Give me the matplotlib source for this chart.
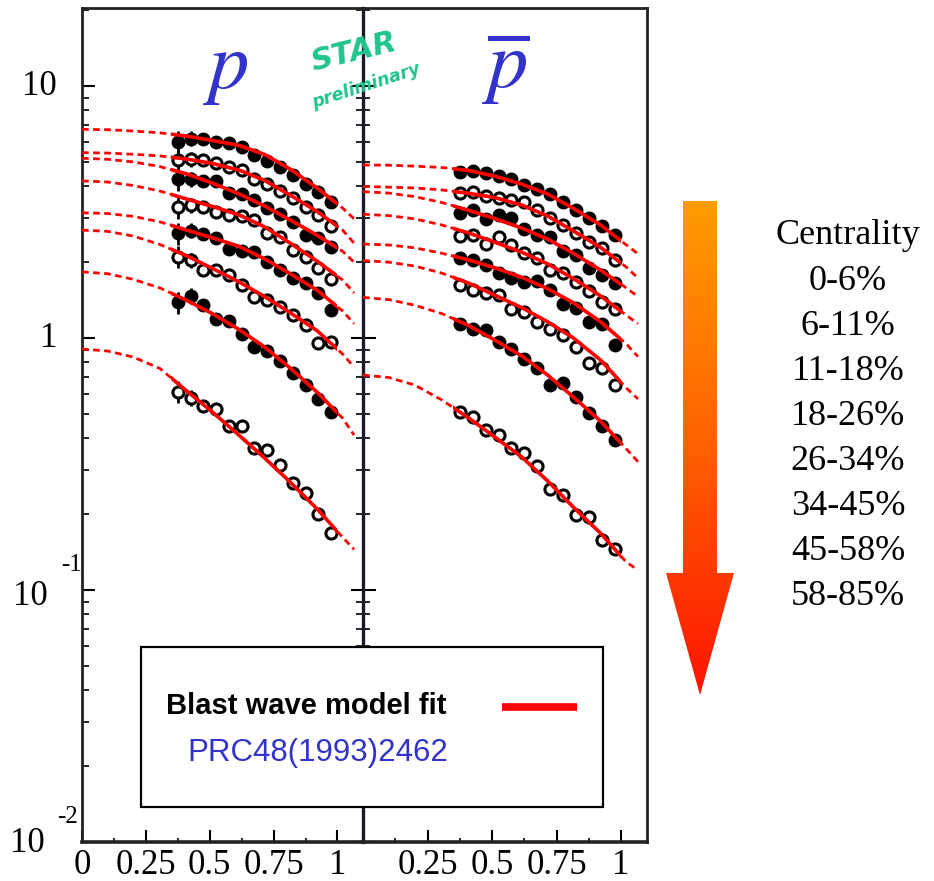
import numpy as np
import matplotlib
matplotlib.use("Agg")
import matplotlib.pyplot as plt
from matplotlib.patches import Rectangle, Polygon
from matplotlib.colors import LinearSegmentedColormap
from matplotlib.ticker import LogLocator, NullFormatter, FixedLocator
from matplotlib.transforms import Bbox, TransformedBbox

plt.rcParams['font.family'] = ['Liberation Serif', 'DejaVu Serif']

W, H = 934, 881

# bin centres (same binning in both panels)
pt = [0.375, 0.425, 0.475, 0.525, 0.575, 0.625, 0.675, 0.725, 0.775, 0.825, 0.875, 0.925, 0.975]
pt_fit = [0.0, 0.1, 0.2, 0.305, 0.41, 0.51, 0.615, 0.715, 0.815, 0.92, 1.02, 1.065]

centrality = ['0-6%', '6-11%', '11-18%', '18-26%', '26-34%', '34-45%', '45-58%', '58-85%']
filled = [True, False, True, False, True, False, True, False]

proton = [
    [6.01, 6.19, 6.19, 5.98, 5.93, 5.74, 5.32, 5.05, 4.79, 4.44, 4.08, 3.81, 3.48],
    [5.08, 5.12, 5.08, 4.94, 4.78, 4.64, 4.27, 4.07, 3.84, 3.58, 3.32, 3.08, 2.78],
    [4.27, 4.27, 4.20, 4.20, 3.75, 3.72, 3.53, 3.29, 3.10, 2.89, 2.56, 2.49, 2.30],
    [3.30, 3.37, 3.30, 3.17, 3.08, 3.05, 2.94, 2.60, 2.52, 2.24, 2.10, 1.89, 1.71],
    [2.60, 2.67, 2.59, 2.50, 2.25, 2.22, 2.20, 2.01, 1.86, 1.73, 1.65, 1.51, 1.29],
    [2.10, 2.04, 1.86, 1.86, 1.78, 1.62, 1.45, 1.42, 1.33, 1.23, 1.13, 0.953, 0.967],
    [1.39, 1.47, 1.35, 1.19, 1.17, 1.04, 0.924, 0.890, 0.810, 0.724, 0.651, 0.571, 0.510],
    [0.612, 0.580, 0.537, 0.521, 0.448, 0.448, 0.365, 0.360, 0.313, 0.265, 0.242, 0.201, 0.168],
]
proton_fit = [
    [6.73, 6.71, 6.63, 6.52, 6.33, 6.08, 5.81, 5.35, 4.68, 3.94, 3.28, 2.97],
    [5.44, 5.42, 5.36, 5.28, 5.13, 4.93, 4.64, 4.22, 3.69, 3.18, 2.68, 2.38],
    [5.17, 5.12, 5.00, 4.79, 4.48, 4.12, 3.73, 3.34, 2.94, 2.56, 2.21, 2.00],
    [4.20, 4.16, 4.03, 3.83, 3.56, 3.33, 3.08, 2.76, 2.38, 2.02, 1.70, 1.51],
    [3.14, 3.12, 3.04, 2.89, 2.68, 2.50, 2.31, 2.06, 1.80, 1.55, 1.28, 1.14],
    [2.68, 2.65, 2.54, 2.35, 2.12, 1.89, 1.67, 1.46, 1.26, 1.07, 0.864, 0.767],
    [1.83, 1.80, 1.71, 1.58, 1.41, 1.25, 1.08, 0.921, 0.760, 0.610, 0.481, 0.412],
    [0.904, 0.888, 0.841, 0.757, 0.616, 0.509, 0.411, 0.334, 0.268, 0.210, 0.162, 0.145],
]

pbar = [
    [4.57, 4.61, 4.50, 4.39, 4.26, 4.05, 3.89, 3.72, 3.47, 3.22, 2.99, 2.78, 2.56],
    [3.75, 3.81, 3.66, 3.58, 3.53, 3.47, 3.22, 2.99, 2.81, 2.60, 2.41, 2.27, 2.04],
    [3.13, 3.22, 2.96, 3.08, 2.99, 2.70, 2.56, 2.52, 2.22, 2.14, 1.89, 1.78, 1.65],
    [2.54, 2.56, 2.36, 2.52, 2.34, 2.17, 2.07, 1.87, 1.81, 1.67, 1.53, 1.39, 1.30],
    [2.07, 2.04, 1.95, 1.81, 1.73, 1.67, 1.68, 1.55, 1.37, 1.31, 1.16, 1.14, 0.938],
    [1.62, 1.55, 1.51, 1.48, 1.30, 1.27, 1.16, 1.09, 1.03, 0.921, 0.798, 0.758, 0.651],
    [1.14, 1.09, 1.08, 0.962, 0.904, 0.825, 0.758, 0.651, 0.661, 0.582, 0.505, 0.448, 0.394],
    [0.510, 0.485, 0.432, 0.412, 0.365, 0.349, 0.311, 0.251, 0.238, 0.198, 0.194, 0.158, 0.145],
]
pbar_fit = [
    [4.86, 4.85, 4.81, 4.75, 4.62, 4.39, 4.08, 3.73, 3.27, 2.81, 2.34, 2.16],
    [3.99, 3.97, 3.94, 3.87, 3.75, 3.61, 3.37, 3.05, 2.66, 2.29, 1.91, 1.73],
    [3.81, 3.76, 3.64, 3.45, 3.21, 2.98, 2.73, 2.47, 2.17, 1.86, 1.58, 1.46],
    [3.10, 3.06, 2.97, 2.81, 2.61, 2.40, 2.19, 1.97, 1.72, 1.47, 1.23, 1.14],
    [2.36, 2.34, 2.28, 2.17, 2.04, 1.90, 1.74, 1.57, 1.38, 1.16, 0.947, 0.843],
    [2.03, 2.00, 1.93, 1.81, 1.65, 1.48, 1.32, 1.16, 1.00, 0.818, 0.633, 0.573],
    [1.45, 1.42, 1.35, 1.25, 1.12, 0.982, 0.849, 0.713, 0.583, 0.468, 0.363, 0.323],
    [0.713, 0.697, 0.651, 0.568, 0.481, 0.405, 0.337, 0.271, 0.213, 0.168, 0.129, 0.120],
]

# relative stat. errors, only the lowest bins stick out of the markers
rel_err_p = [0.10, 0.07, 0.02, 0, 0, 0, 0, 0, 0, 0, 0, 0, 0]
rel_err_pbar = [0.03, 0.02, 0, 0, 0, 0, 0, 0, 0, 0, 0, 0, 0]

fit_range = (0.35, 1.0)   # solid part of the fit, dashed outside

BLUE = '#3333cc'
FRAME = '#222222'


def draw_panel(ax, vals, fits, rel_err):
    for v, f, full in zip(vals, fits, filled):
        v = np.array(v)
        ax.errorbar(pt, v, yerr=v * np.array(rel_err), fmt='none', ecolor='black',
                    elinewidth=2, capsize=0, zorder=2)
        if full:
            ax.plot(pt, v, 'o', ms=9, color='black', zorder=2.5)
        else:
            ax.plot(pt, v, 'o', ms=8, mfc='white', mec='black', mew=2.2, zorder=2.5)
        ax.plot(pt_fit, f, color='red', lw=2.0, ls=(0, (2.4, 1.6)), zorder=3)
        solid, = ax.plot(pt_fit, f, color='red', lw=2.6, zorder=4)
        solid.set_clip_box(TransformedBbox(Bbox([[fit_range[0], 1e-4], [fit_range[1], 1e4]]),
                                           ax.transData))


fig = plt.figure(figsize=(W / 100, H / 100), dpi=100)
y0, hgt = 1 - 842 / H, (842 - 8) / H
axl = fig.add_axes([82 / W, y0, (363 - 82) / W, hgt])
axr = fig.add_axes([363 / W, y0, (647 - 363) / W, hgt])

draw_panel(axl, proton, proton_fit, rel_err_p)
draw_panel(axr, pbar, pbar_fit, rel_err_pbar)

for ax in (axl, axr):
    ax.set_yscale('log')
    ax.set_ylim(0.01, 20.4)
    ax.set_xlim(0, 1.10)
    ax.set_xticks([0, 0.25, 0.5, 0.75, 1.0])
    ax.xaxis.set_minor_locator(FixedLocator([0.125, 0.375, 0.625, 0.875]))
    ax.yaxis.set_major_locator(FixedLocator([0.01, 0.1, 1, 10]))
    ax.yaxis.set_minor_locator(LogLocator(base=10, subs=np.arange(2, 10), numticks=20))
    ax.yaxis.set_minor_formatter(NullFormatter())
    ax.tick_params(axis='x', which='major', direction='in', length=9, width=1.5,
                   labelsize=25, pad=5, top=False)
    ax.tick_params(axis='x', which='minor', direction='in', length=3, width=1.2, top=False)
    ax.tick_params(axis='y', which='major', direction='in', length=9, width=1.5, labelleft=False)
    ax.tick_params(axis='y', which='minor', direction='in', length=5, width=1.2)
    for s in ax.spines.values():
        s.set_color(FRAME)
        s.set_linewidth(2)

axl.set_xticklabels(['0', '0.25', '0.5', '0.75', '1'])
axr.set_xticklabels(['', '0.25', '0.5', '0.75', '1'])
axl.tick_params(axis='y', which='both', left=True, right=True)
axr.tick_params(axis='y', which='both', left=True, right=False)
axl.spines['right'].set_visible(False)
axr.spines['left'].set_color('#1a1a2e')
axr.spines['left'].set_linewidth(2.4)
axl.spines['bottom'].set_linewidth(2.6)
axr.spines['bottom'].set_linewidth(2.6)

# y labels in the old PAW style: 10, 1, 10^-1, 10^-2
ylab = [(10, '10', None, -25, 0, 0), (1, '1', None, -25, 0, 0),
        (0.1, '10', '-1', -34, -6, -21), (0.01, '10', '-2', -37, -1, -25)]
for val, base, sup, dx, dy, sx in ylab:
    axl.annotate(base, xy=(0, val), xycoords=('axes fraction', 'data'), xytext=(dx, dy),
                 textcoords='offset pixels', ha='right', va='center', fontsize=25,
                 annotation_clip=False)
    if sup:
        axl.annotate(sup, xy=(0, val), xycoords=('axes fraction', 'data'), xytext=(sx, 25),
                     textcoords='offset pixels', ha='left', va='center', fontsize=18,
                     annotation_clip=False)

# overlay in pixel coordinates for the decorations
ov = fig.add_axes([0, 0, 1, 1])
ov.set_xlim(0, W)
ov.set_ylim(H, 0)
ov.axis('off')

ov.text(225, 88, r'$p$', math_fontfamily='stix', fontsize=58, color=BLUE,
        ha='center', va='baseline')
ov.text(505, 88, r'$\overline{p}$', math_fontfamily='stix', fontsize=58, color=BLUE,
        ha='center', va='baseline')
ov.text(354, 52, 'STAR', family='DejaVu Sans', style='italic', weight='bold', fontsize=22,
        color='#1fc48e', rotation=14, ha='center', va='center')
ov.text(366, 86, 'preliminary', family='DejaVu Sans', style='italic', weight='bold',
        fontsize=12.5, color='#1fc48e', rotation=18, ha='center', va='center')

# legend box
ov.add_patch(Rectangle((141, 647), 462, 160, facecolor='white', edgecolor='black',
                       lw=1.6, zorder=5))
ov.text(166, 714, 'Blast wave model fit', family='Liberation Sans', weight='bold',
        fontsize=21, va='baseline', zorder=6)
ov.plot([502, 577], [707, 707], color='red', lw=5.5, solid_capstyle='butt', zorder=6)
ov.text(187, 753, 'PRC48(1993)2462', family='Liberation Sans', fontsize=22.5, color=BLUE,
        va='center', zorder=6)

# centrality arrow with orange -> red gradient
arrow = Polygon([(683, 201), (717, 201), (717, 573), (734, 573), (700, 695),
                 (666, 573), (683, 573)], closed=True, facecolor='none', edgecolor='none')
ov.add_patch(arrow)
grad = np.linspace(0, 1, 256).reshape(-1, 1)
cmap = LinearSegmentedColormap.from_list('arr', ['#ff9c00', '#ff6000', '#ff1400'])
im = ov.imshow(grad, cmap=cmap, extent=[666, 734, 695, 201], origin='upper',
               aspect='auto', zorder=4)
im.set_clip_path(arrow)
ov.set_xlim(0, W)
ov.set_ylim(H, 0)

for i, lab in enumerate(['Centrality'] + centrality):
    ov.text(848, 236 + 45.1 * i, lab, fontsize=26, ha='center', va='center')

fig.savefig('out.png', dpi=100)
